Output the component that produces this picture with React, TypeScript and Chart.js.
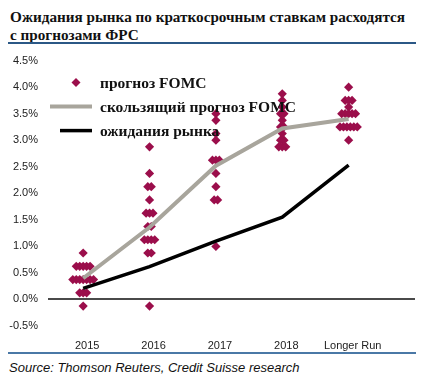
import React, { useEffect, useRef } from 'react';
import { Chart, registerables } from 'chart.js';

Chart.register(...registerables);

// ---- Data ----
const categories = ['2015', '2016', '2017', '2018', 'Longer Run'];

// FOMC participants' projections: level (%) and number of dots at that level
const fomcLevels2015 = [-0.125, 0.125, 0.375, 0.625, 0.875];
const fomcCounts2015 = [1, 3, 7, 5, 1];
const fomcLevels2016 = [-0.125, 0.875, 1.125, 1.375, 1.625, 1.875, 2.125, 2.375, 2.875];
const fomcCounts2016 = [1, 2, 4, 2, 3, 1, 2, 1, 1];
const fomcLevels2017 = [1.0, 1.875, 2.125, 2.375, 2.625, 3.0, 3.125, 3.375, 3.5];
const fomcCounts2017 = [1, 2, 1, 1, 3, 1, 1, 1, 1];
const fomcLevels2018 = [2.875, 3.0, 3.125, 3.25, 3.375, 3.5, 3.625, 3.75, 3.875];
const fomcCounts2018 = [3, 2, 1, 2, 1, 2, 1, 1, 1];
const fomcLevelsLR = [3.0, 3.25, 3.5, 3.625, 3.75, 4.0];
const fomcCountsLR = [1, 6, 5, 1, 3, 1];

const rollingForecast = [0.4, 1.36, 2.52, 3.22, 3.4];
const marketExpectations = [0.21, 0.62, 1.1, 1.55, 2.53];

const yMin = -0.5;
const yMax = 4.5;
const yStep = 0.5;

const seriesLabels = ['прогноз FOMC', 'скользящий прогноз FOMC', 'ожидания рынка'];
const titleLine1 = 'Ожидания рынка по краткосрочным ставкам расходятся';
const titleLine2 = 'с прогнозами ФРС';
const sourceText = 'Source: Thomson Reuters, Credit Suisse research';

// ---- Styles ----
const DOT_COLOR = '#9b0e4b';
const GRAY_COLOR = '#a8a59c';
const BLACK_COLOR = '#000000';
const DOT_SPREAD = 0.052; // horizontal spread between dots in one row (category units)
const AXIS_FONT = "'Liberation Sans Narrow', 'Arial Narrow', 'Liberation Sans', Arial, sans-serif";
const SERIF = "'Liberation Serif', 'Times New Roman', serif";

function buildDots() {
  const levels = [fomcLevels2015, fomcLevels2016, fomcLevels2017, fomcLevels2018, fomcLevelsLR];
  const counts = [fomcCounts2015, fomcCounts2016, fomcCounts2017, fomcCounts2018, fomcCountsLR];
  const pts: { x: number; y: number }[] = [];
  levels.forEach((lv, c) => {
    lv.forEach((v, k) => {
      const n = counts[c][k];
      for (let i = 0; i < n; i++) {
        pts.push({ x: c + (i - (n - 1) / 2) * DOT_SPREAD, y: v });
      }
    });
  });
  return pts;
}

const legendPlugin = {
  id: 'customLegend',
  afterDatasetsDraw(chart: any) {
    const { ctx, chartArea } = chart;
    const left = chartArea.left;
    const top = chartArea.top;
    const rows = [top + 22, top + 46, top + 70];
    ctx.save();
    // diamond
    ctx.fillStyle = DOT_COLOR;
    const cx = left + 28;
    const cy = rows[0];
    ctx.beginPath();
    ctx.moveTo(cx - 4.5, cy);
    ctx.lineTo(cx, cy - 4.5);
    ctx.lineTo(cx + 4.5, cy);
    ctx.lineTo(cx, cy + 4.5);
    ctx.closePath();
    ctx.fill();
    // gray line
    ctx.strokeStyle = GRAY_COLOR;
    ctx.lineWidth = 4;
    ctx.beginPath();
    ctx.moveTo(left + 2, rows[1]);
    ctx.lineTo(left + 44, rows[1]);
    ctx.stroke();
    // black line
    ctx.strokeStyle = BLACK_COLOR;
    ctx.lineWidth = 3.5;
    ctx.beginPath();
    ctx.moveTo(left + 12, rows[2]);
    ctx.lineTo(left + 44, rows[2]);
    ctx.stroke();
    // texts
    ctx.fillStyle = '#111';
    ctx.font = `bold 15.5px ${SERIF}`;
    ctx.textBaseline = 'middle';
    ctx.textAlign = 'left';
    seriesLabels.forEach((t, i) => ctx.fillText(t, left + 52, rows[i] + 1));
    ctx.restore();
  },
};

export default function App() {
  const canvasRef = useRef<HTMLCanvasElement | null>(null);

  useEffect(() => {
    if (!canvasRef.current) return;
    const chart = new Chart(canvasRef.current, {
      type: 'scatter',
      data: {
        datasets: [
          {
            type: 'line',
            label: seriesLabels[2],
            data: marketExpectations.map((v, i) => ({ x: i, y: v })),
            borderColor: BLACK_COLOR,
            borderWidth: 3.5,
            pointRadius: 0,
            showLine: true,
            fill: false,
            order: 0,
          } as any,
          {
            type: 'line',
            label: seriesLabels[1],
            data: rollingForecast.map((v, i) => ({ x: i, y: v })),
            borderColor: GRAY_COLOR,
            borderWidth: 4,
            pointRadius: 0,
            showLine: true,
            fill: false,
            order: 1,
          } as any,
          {
            type: 'scatter',
            label: seriesLabels[0],
            data: buildDots(),
            pointStyle: 'rectRot',
            pointRadius: 4.6,
            pointBorderWidth: 0,
            backgroundColor: DOT_COLOR,
            borderColor: DOT_COLOR,
            order: 2,
          } as any,
        ],
      },
      options: {
        animation: false,
        responsive: false,
        maintainAspectRatio: false,
        layout: { padding: { left: 0, right: 9, top: 15, bottom: 0 } },
        plugins: { legend: { display: false }, tooltip: { enabled: false } },
        scales: {
          x: {
            type: 'linear',
            min: -0.53,
            max: 5.0,
            afterBuildTicks: (axis: any) => {
              axis.ticks = categories.map((_, i) => ({ value: i }));
            },
            afterFit: (s: any) => {
              s.height = 26;
            },
            ticks: {
              callback: (v: any) => categories[Math.round(Number(v))] ?? '',
              autoSkip: false,
              maxRotation: 0,
              padding: 5,
              labelOffset: 4,
              color: '#222',
              font: { family: AXIS_FONT, size: 11 },
            },
            grid: { display: false },
            border: { display: false },
          },
          y: {
            min: yMin,
            max: yMax,
            afterFit: (s: any) => {
              s.width = 48;
            },
            ticks: {
              stepSize: yStep,
              callback: (v: any) => Number(v).toFixed(1) + '%',
              padding: 10,
              color: '#222',
              font: { family: AXIS_FONT, size: 11 },
            },
            grid: {
              drawTicks: false,
              color: (c: any) => (c.tick && Math.abs(c.tick.value) < 1e-9 ? '#4a4a4a' : 'transparent'),
              lineWidth: 2,
            },
            border: { display: false },
          },
        },
      },
      plugins: [legendPlugin],
    });
    return () => chart.destroy();
  }, []);

  return (
    <div style={{ position: 'absolute', left: 0, top: 0, width: 424, height: 386, background: '#fff', overflow: 'hidden' }}>
      <div
        style={{
          position: 'absolute',
          left: 10,
          top: 8,
          fontFamily: SERIF,
          fontWeight: 'bold',
          fontSize: 15.2,
          lineHeight: '18px',
          color: '#111',
          whiteSpace: 'nowrap',
        }}
      >
        <div>{titleLine1}</div>
        <div>{titleLine2}</div>
      </div>
      <div style={{ position: 'absolute', left: 8, top: 42, width: 408, height: 2, background: '#2b5886' }} />
      <canvas ref={canvasRef} width={424} height={308} style={{ position: 'absolute', left: 0, top: 44, width: 424, height: 308 }} />
      <div style={{ position: 'absolute', left: 8, top: 352, width: 408, height: 2, background: '#4a78a6' }} />
      <div
        style={{
          position: 'absolute',
          left: 9,
          top: 360,
          fontFamily: "'Liberation Sans', Arial, sans-serif",
          fontStyle: 'italic',
          fontSize: 13,
          lineHeight: '16px',
          color: '#111',
          whiteSpace: 'nowrap',
        }}
      >
        {sourceText}
      </div>
    </div>
  );
}
